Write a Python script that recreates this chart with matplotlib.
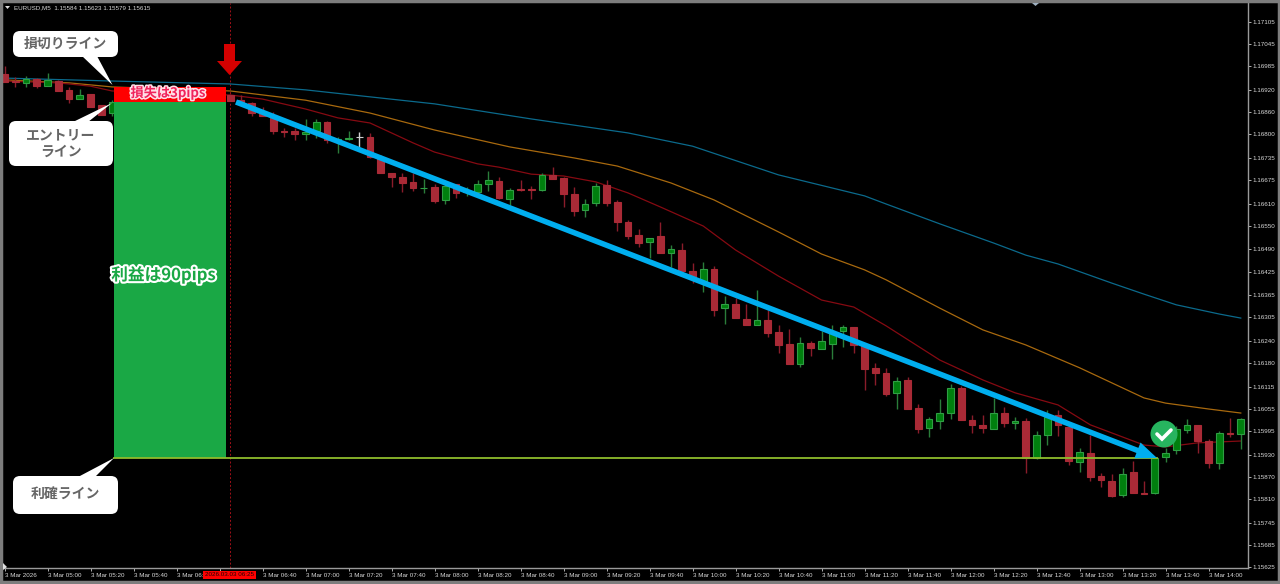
import numpy as np
import matplotlib
matplotlib.use('Agg')
import matplotlib.pyplot as plt
import matplotlib.patheffects as pe
from matplotlib.patches import FancyBboxPatch, Polygon, Circle, Rectangle, FancyArrow

JP = ['Noto Sans CJK JP', 'DejaVu Sans']

# bars are 5 min apart, bar 0 = 04:40. bars 11-20 sit behind the green box
bar_idx = list(range(0, 11)) + list(range(21, 116))

# prices in points (1.16950 -> 116950)
opens = [116964, 116944, 116941, 116950, 116931, 116945, 116921, 116896, 116910, 116880, 116858,
         116907, 116893, 116885, 116861, 116850, 116809, 116809, 116801, 116809, 116834,
         116785, 116787, 116793, 116793, 116739, 116695, 116684, 116671, 116654, 116657,
         116622, 116665, 116644, 116644, 116665, 116673, 116625, 116652, 116652, 116649,
         116690, 116682, 116638, 116595, 116614, 116663, 116616, 116562, 116527, 116508,
         116524, 116478, 116486, 116429, 116402, 116434, 116328, 116339, 116299, 116282,
         116296, 116263, 116231, 116176, 116233, 116217, 116231, 116266, 116277, 116228,
         116166, 116152, 116098, 116133, 116057, 116003, 116022, 116043, 116111, 116024,
         116011, 116000, 116043, 116016, 116022, 115921, 115984, 116038, 116005, 115910,
         115935, 115872, 115859, 115821, 115883, 115826, 115826, 115924, 115943, 115997,
         116011, 115967, 115907, 115989, 115986]
highs = [116986, 116956, 116959, 116953, 116967, 116948, 116929, 116923, 116910, 116880, 116893,
         116910, 116907, 116888, 116874, 116861, 116817, 116817, 116842, 116842, 116836,
         116793, 116809, 116806, 116804, 116744, 116695, 116695, 116695, 116679, 116665,
         116668, 116665, 116657, 116676, 116701, 116684, 116654, 116676, 116660, 116695,
         116711, 116684, 116657, 116625, 116668, 116676, 116622, 116567, 116543, 116519,
         116562, 116500, 116505, 116451, 116453, 116442, 116361, 116356, 116339, 116377,
         116323, 116282, 116271, 116250, 116239, 116266, 116282, 116282, 116277, 116233,
         116179, 116166, 116141, 116141, 116068, 116032, 116081, 116122, 116116, 116038,
         116038, 116084, 116060, 116032, 116030, 115994, 116051, 116051, 116011, 115948,
         115984, 115880, 115878, 115894, 115913, 115859, 115924, 115948, 116008, 116027,
         116011, 115973, 115994, 116030, 116030]
lows = [116942, 116929, 116929, 116926, 116931, 116918, 116885, 116896, 116874, 116853, 116850,
        116891, 116880, 116850, 116850, 116801, 116793, 116785, 116785, 116790, 116777,
        116749, 116785, 116766, 116736, 116695, 116657, 116644, 116646, 116641, 116614,
        116611, 116627, 116633, 116641, 116646, 116625, 116608, 116646, 116625, 116646,
        116679, 116603, 116578, 116576, 116606, 116606, 116538, 116516, 116494, 116464,
        116478, 116440, 116426, 116396, 116372, 116307, 116285, 116301, 116282, 116282,
        116250, 116206, 116176, 116168, 116198, 116217, 116190, 116223, 116206, 116106,
        116119, 116089, 116054, 116054, 115989, 115978, 116000, 116027, 116024, 115989,
        115989, 116000, 116005, 116000, 115880, 115918, 115956, 115981, 115902, 115883,
        115859, 115842, 115815, 115815, 115826, 115824, 115823, 115910, 115932, 115989,
        115935, 115894, 115891, 115978, 115946]
closes = [116942, 116942, 116950, 116931, 116948, 116918, 116896, 116907, 116874, 116853, 116888,
          116891, 116883, 116858, 116850, 116809, 116806, 116801, 116806, 116834, 116785,
          116787, 116790, 116793, 116739, 116695, 116684, 116668, 116654, 116655, 116619,
          116660, 116641, 116646, 116665, 116676, 116627, 116649, 116649, 116649, 116690,
          116679, 116638, 116592, 116611, 116660, 116614, 116562, 116524, 116505, 116519,
          116478, 116489, 116429, 116413, 116434, 116323, 116339, 116301, 116282, 116296,
          116261, 116228, 116176, 116233, 116220, 116239, 116261, 116277, 116228, 116163,
          116152, 116095, 116130, 116054, 116000, 116027, 116043, 116111, 116024, 116011,
          116003, 116043, 116016, 116022, 115921, 115984, 116032, 116011, 115913, 115937,
          115869, 115861, 115818, 115878, 115826, 115824, 115921, 115935, 116000, 116011,
          115967, 115907, 115989, 115986, 116027]

ma_blue_x = [0, 10, 21, 28, 40, 49, 58, 64, 72, 80, 82, 87, 92, 95, 98, 103, 106, 109, 113, 115]
ma_blue = [116953, 116945, 116937, 116921, 116883, 116842, 116804, 116768, 116690, 116633,
           116611, 116557, 116505, 116472, 116448, 116396, 116366, 116337, 116312, 116301]
ma_orange_x = [0, 6, 10, 21, 28, 34, 40, 47, 53, 57, 62, 66, 72, 76, 80, 82, 87, 91, 95, 100,
               103, 106, 108, 112, 115]
ma_orange = [116948, 116940, 116929, 116918, 116893, 116858, 116812, 116766, 116736, 116714,
             116668, 116622, 116535, 116475, 116432, 116405, 116328, 116269, 116228, 116166,
             116125, 116084, 116070, 116054, 116043]
ma_red_x = [0, 5, 8, 10, 21, 24, 28, 31, 34, 38, 40, 44, 46, 49, 52, 55, 58, 61, 65, 68, 72,
            76, 79, 82, 87, 91, 94, 98, 101, 103, 106, 108, 111, 115]
ma_red = [116945, 116940, 116931, 116918, 116907, 116896, 116869, 116845, 116831, 116777,
          116752, 116720, 116711, 116692, 116687, 116671, 116641, 116603, 116551, 116486,
          116415, 116350, 116331, 116280, 116187, 116133, 116098, 116065, 116011, 115989,
          115956, 115951, 115962, 115967]

stop_price = 116929
entry_price = 116888
target_price = 115921

price_ticks = [117105, 117045, 116985, 116920, 116860, 116800, 116735, 116675, 116610, 116550,
               116490, 116425, 116365, 116305, 116240, 116180, 116115, 116055, 115995, 115930,
               115870, 115810, 115745, 115685, 115625]
# 06:20 is cut off by the red crosshair tag in the chart
time_labels = ['3 Mar 2026', '3 Mar 05:00', '3 Mar 05:20', '3 Mar 05:40', '3 Mar 06:',
               '', '3 Mar 06:40', '3 Mar 07:00', '3 Mar 07:20', '3 Mar 07:40',
               '3 Mar 08:00', '3 Mar 08:20', '3 Mar 08:40', '3 Mar 09:00', '3 Mar 09:20',
               '3 Mar 09:40', '3 Mar 10:00', '3 Mar 10:20', '3 Mar 10:40', '3 Mar 11:00',
               '3 Mar 11:20', '3 Mar 11:40', '3 Mar 12:00', '3 Mar 12:20', '3 Mar 12:40',
               '3 Mar 13:00', '3 Mar 13:20', '3 Mar 13:40', '3 Mar 14:00']

fig = plt.figure(figsize=(12.8, 5.84), dpi=100, facecolor='black')
ax = fig.add_axes([3 / 1280, 1 - 568 / 584, 1245 / 1280, 565 / 584], facecolor='black')
ax.set_xlim(-0.14, 115.67)
ax.set_ylim(1.15622, 1.17157)

bar_idx = np.array(bar_idx)
o = np.array(opens) / 1e5
h = np.array(highs) / 1e5
l = np.array(lows) / 1e5
c = np.array(closes) / 1e5

for name, xs, ys in [('#0b6a8c', ma_blue_x, ma_blue), ('#a8690e', ma_orange_x, ma_orange),
                     ('#860a12', ma_red_x, ma_red)]:
    ax.plot(xs, np.array(ys) / 1e5, color=name, lw=0.9, zorder=2)

up = c > o
down = c < o
flat = c == o
for mask, face, edge, wick in [(down, '#a92a36', '#a92a36', '#8a1c2a'),
                               (up, '#007f0e', '#2f9e44', '#2a7d3a'),
                               (flat, '#d0d0d0', '#d0d0d0', '#d0d0d0')]:
    ax.vlines(bar_idx[mask], l[mask], h[mask], color=wick, lw=1.0, zorder=3)
    ax.bar(bar_idx[mask], np.abs(c - o)[mask], bottom=np.minimum(o, c)[mask], width=0.64,
           facecolor=face, edgecolor=edge, lw=0.8, zorder=4)

# trade boxes
ax.axvline(21, color='#a01018', lw=0.7, ls=(0, (2, 2)), zorder=1)
ax.add_patch(Rectangle((10.19, target_price / 1e5), 10.41, (entry_price - target_price) / 1e5,
                       facecolor='#1aa845', edgecolor='none', zorder=6))
ax.add_patch(Rectangle((10.19, entry_price / 1e5), 10.41, (stop_price - entry_price) / 1e5,
                       facecolor='#ff0000', edgecolor='none', zorder=6))
ax.plot([10.19, 107.2], [target_price / 1e5] * 2, color='#8ebc2c', lw=1.3, zorder=7)

ax.yaxis.tick_right()
ax.set_yticks(np.array(price_ticks) / 1e5)
ax.set_yticklabels(['%.5f' % (p / 1e5) for p in price_ticks], fontsize=4.5, color='#d8d8d8',
                   family='Liberation Sans')
ax.set_xticks(np.arange(len(time_labels)) * 4)
ax.set_xticklabels(time_labels, fontsize=4.5, color='#d8d8d8', ha='left', family='Liberation Sans')
ax.tick_params(axis='both', length=2.2, width=0.7, color='#b0b0b0', pad=1.2)
for s in ['top', 'left']:
    ax.spines[s].set_visible(False)
for s in ['right', 'bottom']:
    ax.spines[s].set_color('#9a9a9a')
    ax.spines[s].set_linewidth(1.0)

# everything hand drawn on top goes in pixel coordinates
ov = fig.add_axes([0, 0, 1, 1], facecolor='none')
ov.set_xlim(0, 1280)
ov.set_ylim(584, 0)
ov.axis('off')
ov.add_patch(Rectangle((1, 1), 1278, 581, fill=False, edgecolor='#7d7d7d', lw=2.5))
ov.add_patch(Polygon([(1032, 3), (1039, 3), (1035.5, 6)], facecolor='#9fb0c0', edgecolor='none'))
ov.add_patch(Polygon([(3, 563), (3, 570), (7, 567)], facecolor='#e0e0e0', edgecolor='none'))
ov.add_patch(Polygon([(5, 6), (10, 6), (7.5, 9)], facecolor='#e0e0e0', edgecolor='none'))
ov.text(14, 8, 'EURUSD,M5  1.15584 1.15623 1.15579 1.15615', fontsize=4.5, color='#d8d8d8',
        family='Liberation Sans', va='center')

ov.add_patch(Rectangle((202.5, 571), 53.5, 7.5, facecolor='#ff0000', edgecolor='none'))
ov.text(229.5, 574.8, '2026.03.03 06:25', fontsize=4.5, color='#200000', ha='center', va='center',
        family='Liberation Sans')

ov.add_patch(FancyArrow(236, 102, 1157 - 236, 458 - 102, width=5.5, head_width=17, head_length=21,
                        length_includes_head=True, facecolor='#00aeef', edgecolor='none', zorder=8))
ov.add_patch(FancyArrow(229.5, 44, 0, 31, width=11, head_width=25, head_length=14,
                        length_includes_head=True, facecolor='#d40000', edgecolor='none'))


def callout(x0, y0, x1, y1, tail, text):
    ov.add_patch(Polygon(tail, facecolor='white', edgecolor='none', zorder=9))
    ov.add_patch(FancyBboxPatch((x0 + 7, y0 + 7), x1 - x0 - 14, y1 - y0 - 14,
                                boxstyle='round,pad=7,rounding_size=7', facecolor='white',
                                edgecolor='none', zorder=9, mutation_aspect=1))
    ov.text((x0 + x1) / 2, (y0 + y1) / 2, text, fontsize=10, color='#666666', fontweight='bold',
            family=JP, ha='center', va='center', linespacing=1.25, zorder=10)


callout(13, 31, 118, 57, [(82, 56), (97, 56), (112.5, 85)], '損切りライン')
callout(9, 121, 113, 166, [(73, 122), (88, 122), (112, 103)], 'エントリー\nライン')
callout(13, 476, 118, 514, [(78, 477), (95, 477), (114, 458)], '利確ライン')

ov.text(168, 93, '損失は3pips', fontsize=9.5, color='#f0245c', fontweight='bold', family=JP,
        ha='center', va='center', zorder=10,
        path_effects=[pe.withStroke(linewidth=2.2, foreground='#ffe0e8')])
ov.text(163.5, 275, '利益は90pips', fontsize=12, color='#1aa845', fontweight='bold', family=JP,
        ha='center', va='center', zorder=10,
        path_effects=[pe.withStroke(linewidth=3, foreground='white')])

ov.add_patch(Circle((1164, 434), 13.5, facecolor='#27b45f', edgecolor='none', zorder=10))
ov.plot([1157, 1162, 1171], [434, 439, 430], color='white', lw=2.6, zorder=11,
        solid_capstyle='round', solid_joinstyle='miter')

fig.savefig('out.png', dpi=100, facecolor='black')
